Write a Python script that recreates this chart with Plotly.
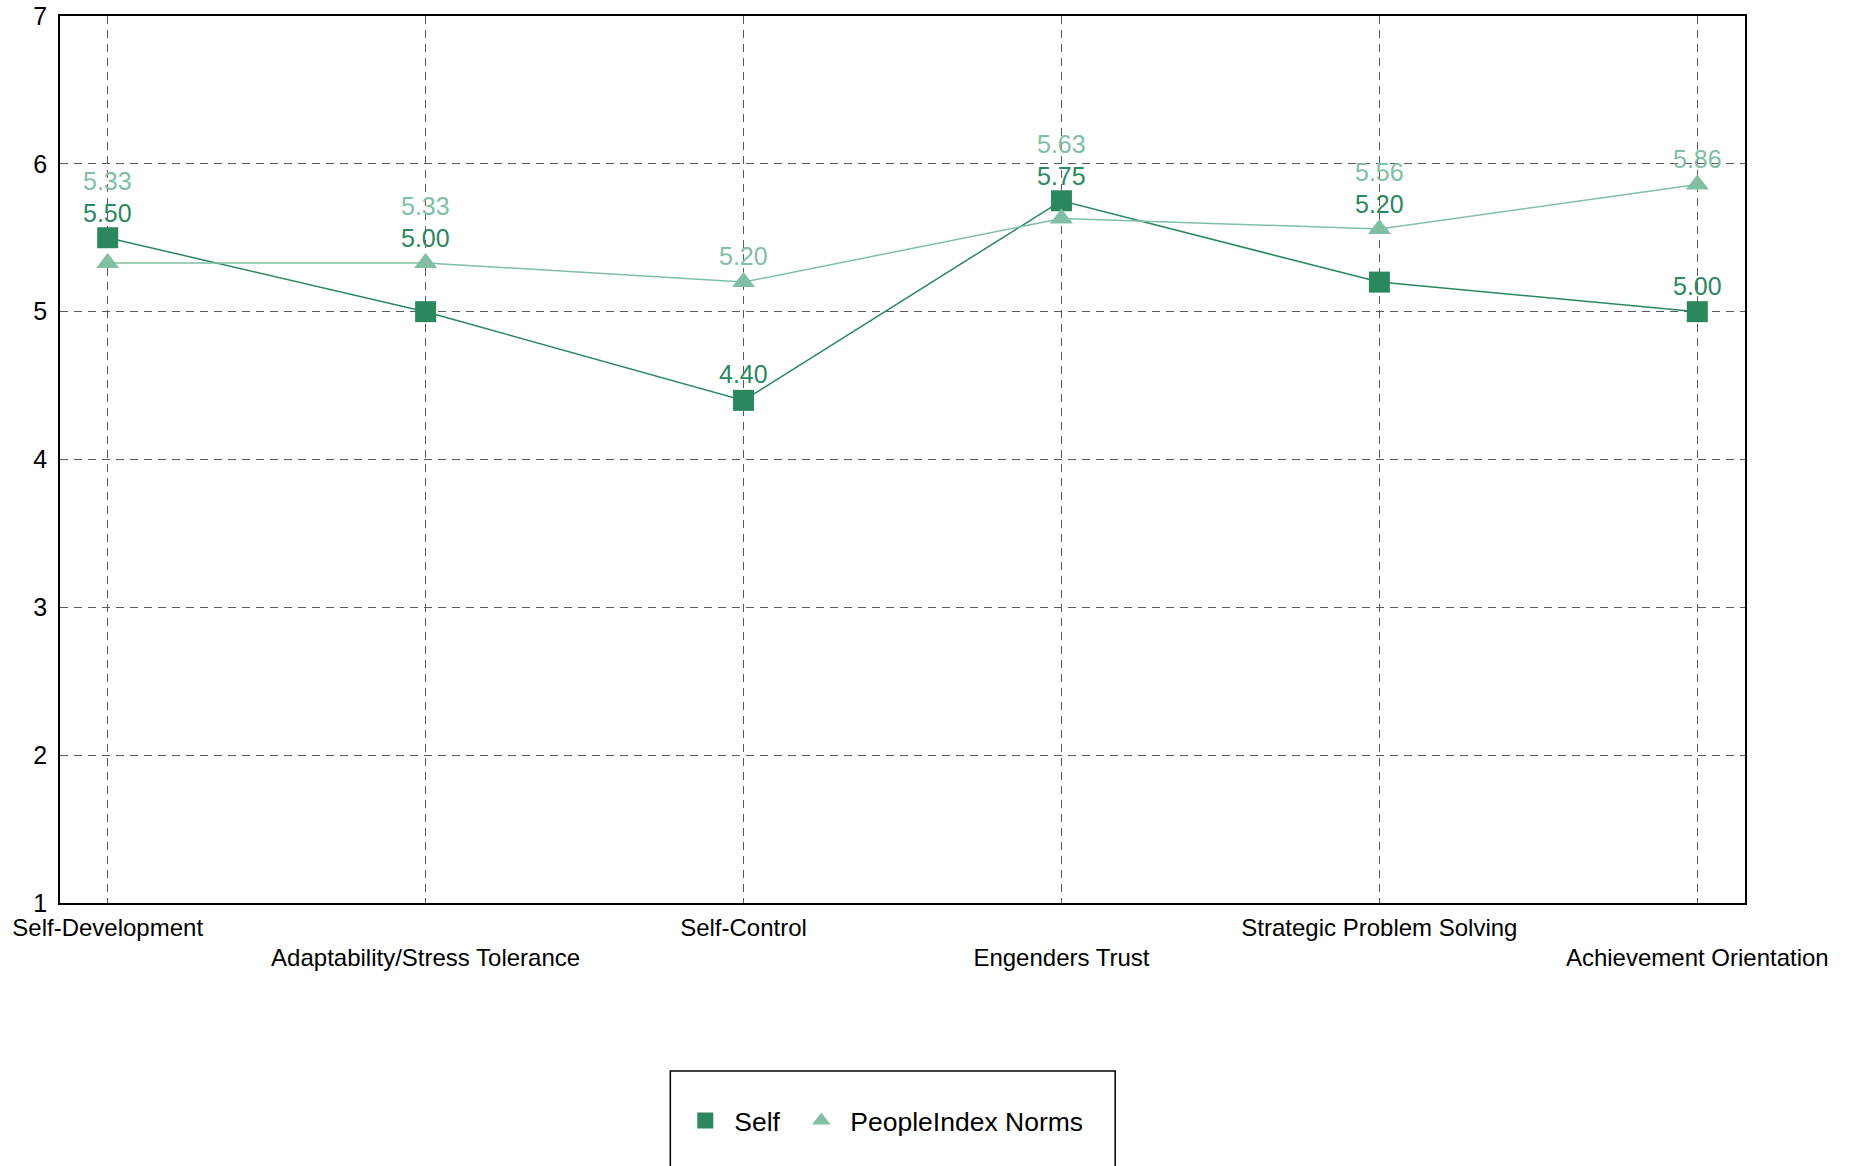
import plotly.graph_objects as go

categories = ["Self-Development", "Adaptability/Stress Tolerance", "Self-Control",
              "Engenders Trust", "Strategic Problem Solving", "Achievement Orientation"]
self_scores = [5.50, 5.00, 4.40, 5.75, 5.20, 5.00]
norm_scores = [5.33, 5.33, 5.20, 5.63, 5.56, 5.86]
y_ticks = [1, 2, 3, 4, 5, 6, 7]
series_names = ["Self", "PeopleIndex Norms"]

SELF_COLOR = "#2b875e"
NORM_COLOR = "#80bfa3"
GRID_COLOR = "#5a5a5a"
FONT = "Liberation Sans, Arial, sans-serif"

x_idx = list(range(len(categories)))

fig = go.Figure()
fig.add_trace(go.Scatter(x=x_idx, y=self_scores, mode="lines+markers", name=series_names[0],
                         line=dict(color=SELF_COLOR, width=1.5),
                         marker=dict(symbol="square", size=21, color=SELF_COLOR),
                         showlegend=False, hoverinfo="skip"))
fig.add_trace(go.Scatter(x=x_idx, y=norm_scores, mode="lines+markers", name=series_names[1],
                         line=dict(color=NORM_COLOR, width=1.5),
                         marker=dict(symbol="triangle-up", size=20, color=NORM_COLOR),
                         showlegend=False, hoverinfo="skip"))
# legend-only entries (markers without line)
fig.add_trace(go.Scatter(x=[None], y=[None], mode="markers", name=series_names[0],
                         marker=dict(symbol="square", size=21, color=SELF_COLOR),
                         legendwidth=53))
fig.add_trace(go.Scatter(x=[None], y=[None], mode="markers", name=series_names[1],
                         marker=dict(symbol="triangle-up", size=20, color=NORM_COLOR)))
# invisible trace for the second (label-row) x axis
fig.add_trace(go.Scatter(x=x_idx, y=self_scores, xaxis="x2", mode="none",
                         showlegend=False, hoverinfo="skip"))

# value labels, stacked when the two markers are close
annotations = []
for i in x_idx:
    s, n = self_scores[i], norm_scores[i]
    if abs(s - n) < 0.5:
        base = max(s, n)
        annotations.append(dict(x=i, y=base, yshift=25, text=f"{s:.2f}",
                                font=dict(color=SELF_COLOR, size=25, family=FONT)))
        annotations.append(dict(x=i, y=base, yshift=57, text=f"{n:.2f}",
                                font=dict(color=NORM_COLOR, size=25, family=FONT)))
    else:
        annotations.append(dict(x=i, y=s, yshift=26, text=f"{s:.2f}",
                                font=dict(color=SELF_COLOR, size=25, family=FONT)))
        annotations.append(dict(x=i, y=n, yshift=26, text=f"{n:.2f}",
                                font=dict(color=NORM_COLOR, size=25, family=FONT)))
for a in annotations:
    a.update(xref="x", yref="y", showarrow=False, xanchor="center", yanchor="middle")

W, H = 1852, 1166
ml, mr, mt, mb = 59.5, 107, 15.5, 263
pw, ph = W - ml - mr, H - mt - mb

def px_x(p):
    return (p - ml) / pw

def px_y(p):
    return (H - mb - p) / ph

fig.update_layout(
    template="none",
    width=W, height=H,
    margin=dict(l=ml, r=mr, t=mt, b=mb, pad=0, autoexpand=False),
    paper_bgcolor="white", plot_bgcolor="white",
    font=dict(family=FONT, color="black", size=24),
    annotations=annotations,
    xaxis=dict(range=[-0.15, 5.15], tickmode="array", tickvals=x_idx,
               ticktext=[c if i % 2 == 0 else "" for i, c in enumerate(categories)],
               showgrid=True, gridcolor=GRID_COLOR, griddash="8px,6px", gridwidth=1.4,
               showline=True, mirror=True, linecolor="black", linewidth=1.5,
               zeroline=False, ticks="", tickfont=dict(size=24, color="black"),
               ticklabelstandoff=2, automargin=False, ticklabeloverflow="allow"),
    xaxis2=dict(range=[-0.15, 5.15], overlaying="x", anchor="y", side="bottom",
                tickmode="array", tickvals=x_idx[1::2], ticktext=categories[1::2],
                showgrid=False, showline=False, zeroline=False, ticks="",
                tickfont=dict(size=24, color="black"), ticklabelstandoff=38,
                automargin=False, ticklabeloverflow="allow"),
    yaxis=dict(range=[1, 7], tickmode="array", tickvals=y_ticks,
               showgrid=True, gridcolor=GRID_COLOR, griddash="8px,6px", gridwidth=1.4,
               showline=True, mirror=True, linecolor="black", linewidth=1.5,
               zeroline=False, ticks="", tickfont=dict(size=25, color="black"),
               ticklabelstandoff=6, automargin=False, ticklabeloverflow="allow"),
    legend=dict(orientation="h", xanchor="left", yanchor="middle",
                x=px_x(676), y=px_y(1121), font=dict(size=26.5, color="black"),
                bgcolor="rgba(0,0,0,0)", borderwidth=0, itemwidth=48),
    shapes=[dict(type="rect", xref="paper", yref="paper",
                 x0=px_x(670), x1=px_x(1115), y0=px_y(1071), y1=px_y(1250),
                 line=dict(color="black", width=1.5), fillcolor="rgba(0,0,0,0)")],
    showlegend=True,
)

fig.write_html("out.html", config={"displayModeBar": False},
               post_script="document.body.style.margin='0px';document.body.style.overflow='hidden';")
